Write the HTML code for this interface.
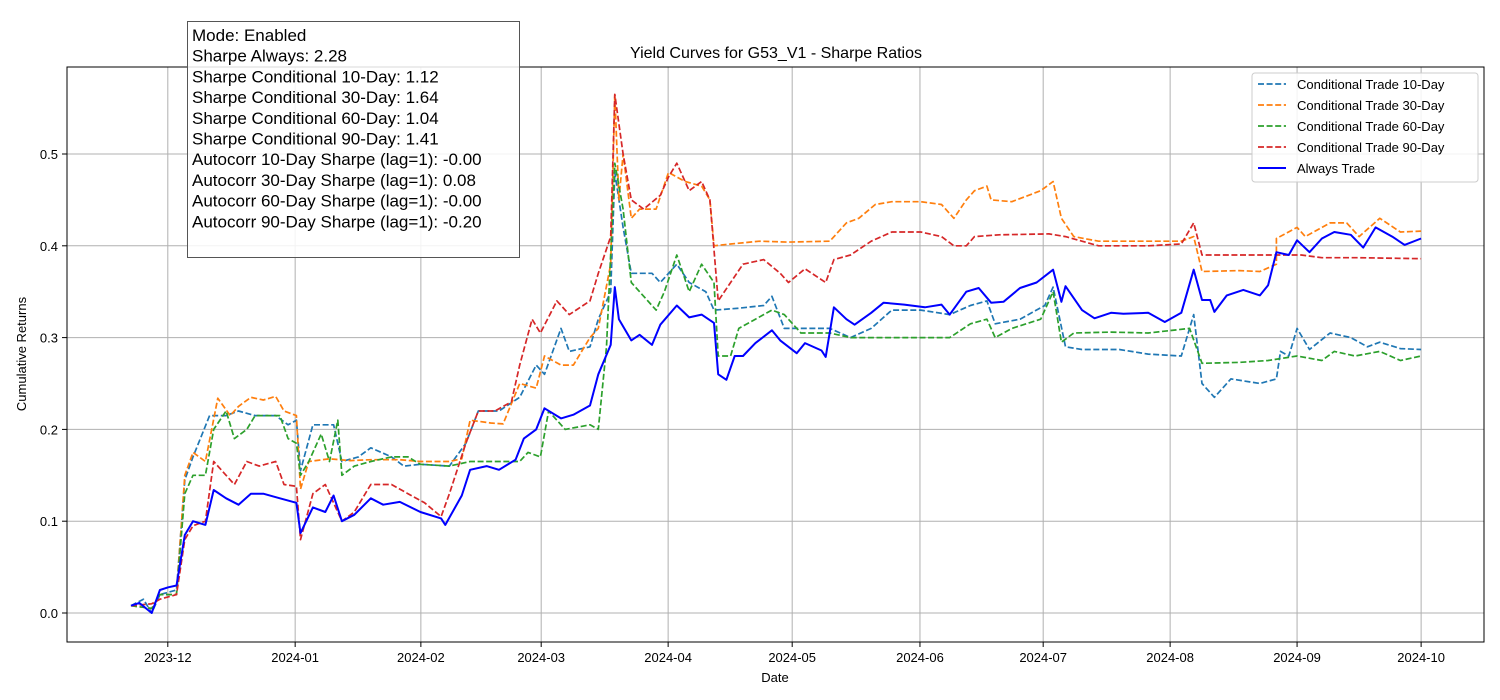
<!DOCTYPE html>
<html><head><meta charset="utf-8"><style>
body{margin:0;background:#fff;font-family:"Liberation Sans","DejaVu Sans",sans-serif}
svg{display:block}
</style></head><body>
<svg id="chart" width="1500" height="700" xmlns="http://www.w3.org/2000/svg"></svg>
<script>
const tickDates=["2023-12","2024-01","2024-02","2024-03","2024-04","2024-05","2024-06","2024-07","2024-08","2024-09","2024-10"];
const tickDays=[8.9,39.7,70.1,99.2,129.9,159.9,190.8,220.6,251.3,282,312];
const yTicks=[0.0,0.1,0.2,0.3,0.4,0.5];
const seriesNames=["Conditional Trade 10-Day","Conditional Trade 30-Day","Conditional Trade 60-Day","Conditional Trade 90-Day","Always Trade"];
const daysAlways=[0,2,5,7,9,11,13,15,18,20,23,26,29,32,36,40,41,44,47,49,51,54,58,61,65,70,75,76,80,82,86,89,93,95,98,100,104,107,111,113,116,117,118,121,123,126,128,132,135,138,141,142,144,146,148,151,155,157,161,163,167,168,170,173,175,179,182,187,192,196,198,202,205,208,211,215,219,223,225,226,230,233,237,240,246,250,254,257,259,261,262,265,269,273,275,277,280,282,285,288,291,295,298,301,305,308,312];
const valsAlways=[.008,.011,0,.025,.028,.03,.085,.10,.096,.134,.125,.118,.13,.13,.125,.12,.087,.115,.11,.128,.10,.107,.125,.118,.121,.11,.103,.096,.128,.156,.16,.156,.167,.19,.2,.223,.212,.216,.226,.26,.292,.355,.32,.297,.303,.292,.314,.335,.322,.325,.316,.26,.254,.28,.28,.294,.308,.297,.283,.294,.286,.279,.333,.32,.314,.327,.338,.336,.333,.336,.325,.35,.354,.338,.339,.354,.36,.374,.339,.356,.33,.321,.327,.326,.327,.317,.327,.374,.341,.341,.328,.346,.352,.346,.357,.393,.39,.406,.393,.408,.415,.412,.398,.42,.41,.401,.408];
const days30=[0,5,7,11,13,15,18,21,24,26,29,32,35,37,40,41,43,48,53,58,65,70,77,80,82,87,90,94,98,100,104,107,111,113,116,117,118,119,121,123,127,130,134,138,140,141,145,152,159,169,173,176,180,184,191,196,199,202,204,207,208,213,220,223,225,228,234,246,254,257,259,268,273,277,277,282,284,290,294,297,302,307,312];
const vals30=[.008,.005,.02,.02,.15,.175,.165,.234,.215,.225,.235,.232,.236,.22,.215,.135,.165,.168,.166,.167,.167,.165,.165,.168,.21,.207,.206,.25,.245,.28,.27,.27,.3,.31,.38,.565,.45,.5,.43,.44,.44,.48,.47,.465,.45,.4,.402,.405,.404,.405,.425,.43,.445,.448,.448,.445,.43,.45,.46,.465,.45,.448,.46,.47,.43,.41,.405,.405,.405,.41,.372,.373,.372,.38,.408,.42,.41,.425,.425,.41,.43,.415,.416];
const days60=[0,5,7,11,13,15,18,20,23,25,28,30,34,36,38,40,41,43,46,48,50,51,54,58,63,67,70,77,82,87,94,96,99,101,105,111,113,115,117,119,121,124,127,129,132,135,138,141,142,145,147,151,155,158,162,169,174,184,198,203,207,209,213,220,223,225,228,237,246,256,259,268,275,282,288,291,296,302,307,312];
const vals60=[.008,.005,.02,.02,.13,.15,.15,.2,.22,.19,.2,.215,.215,.215,.19,.185,.15,.165,.195,.165,.21,.15,.16,.165,.17,.17,.162,.16,.165,.165,.165,.175,.17,.22,.2,.205,.2,.29,.49,.44,.36,.345,.33,.35,.39,.35,.38,.36,.28,.28,.31,.32,.33,.325,.305,.305,.3,.3,.3,.315,.32,.3,.31,.32,.35,.295,.305,.306,.305,.31,.272,.273,.275,.28,.275,.285,.28,.285,.275,.28];
const days10=[0,3,5,7,11,13,15,19,23,26,30,35,38,40,41,44,49,51,55,58,63,66,70,77,81,84,89,94,98,100,104,106,111,113,116,117,119,121,126,128,132,135,139,141,147,153,155,158,164,169,174,179,184,191,198,203,207,209,215,221,223,226,230,239,246,254,257,259,262,266,273,277,278,280,282,285,290,295,299,302,307,312];
const vals10=[.008,.015,0,.02,.025,.145,.17,.215,.215,.22,.215,.215,.205,.21,.155,.205,.205,.165,.17,.18,.17,.16,.162,.16,.185,.22,.22,.235,.27,.26,.31,.285,.29,.32,.35,.48,.42,.37,.37,.36,.38,.36,.35,.33,.332,.335,.345,.31,.31,.31,.3,.31,.33,.33,.325,.335,.34,.315,.32,.335,.355,.29,.287,.287,.282,.28,.325,.25,.235,.255,.25,.255,.285,.28,.31,.287,.305,.3,.29,.295,.288,.287];
const days90=[0,5,7,11,13,15,18,20,23,25,28,31,35,37,40,41,44,47,51,54,58,63,67,71,75,77,81,84,88,92,94,97,99,103,106,111,113,116,117,119,121,124,128,130,132,135,138,140,142,145,148,153,157,159,163,168,170,174,179,184,191,196,199,202,204,210,222,226,230,234,246,254,257,259,268,277,283,288,297,312];
const vals90=[.008,.01,.015,.02,.08,.095,.1,.165,.15,.14,.165,.16,.165,.14,.138,.08,.13,.14,.1,.11,.14,.14,.13,.12,.105,.13,.185,.22,.22,.23,.27,.32,.305,.34,.325,.34,.37,.41,.565,.5,.45,.44,.455,.475,.49,.46,.47,.45,.34,.36,.38,.385,.37,.36,.375,.36,.385,.39,.405,.415,.415,.41,.4,.4,.41,.412,.413,.41,.405,.4,.4,.402,.425,.39,.39,.39,.39,.387,.387,.386];

const NS="http://www.w3.org/2000/svg";
const svg=document.getElementById('chart');
const L=67,R=1484,T=67,B=642;
const xs=d=>131+d*4.135;
const ys=v=>613-v*918;
function mk(tag,attrs,parent){const e=document.createElementNS(NS,tag);for(const k in attrs)e.setAttribute(k,attrs[k]);(parent||svg).appendChild(e);return e;}
function txt(s,attrs,parent){const e=mk('text',attrs,parent);e.textContent=s;return e;}

const grid=mk('g',{});


tickDays.forEach((d,i)=>{
  const x=xs(d);
  mk('line',{x1:x,x2:x,y1:T,y2:B,stroke:'#b0b0b0','stroke-width':1},grid);
  mk('line',{x1:x,x2:x,y1:B,y2:B+5,stroke:'#000'});
  const t=txt(tickDates[i],{x:x,y:B+20,'text-anchor':'middle','font-size':13,fill:'#000'});
  
  
});
yTicks.forEach(v=>{
  const y=ys(v);
  mk('line',{x1:L,x2:R,y1:y,y2:y,stroke:'#b0b0b0','stroke-width':1},grid);
  mk('line',{x1:L-5,x2:L,y1:y,y2:y,stroke:'#000'});
  const t=txt(v.toFixed(1),{x:L-9,y:y+5,'text-anchor':'end','font-size':13,fill:'#000'});
  
  
});

const series=[[days10,vals10,'#1f77b4',true],[days30,vals30,'#ff7f0e',true],[days60,vals60,'#2ca02c',true],[days90,vals90,'#d62728',true],[daysAlways,valsAlways,'#0000ff',false]];
const sNames=['line-10-day','line-30-day','line-60-day','line-90-day','line-always-trade'];
series.forEach((s,i)=>{
  const pts=s[0].map((d,j)=>xs(d).toFixed(1)+','+ys(s[1][j]).toFixed(1)).join(' ');
  const p=mk('polyline',{points:pts,fill:'none',stroke:s[2],'stroke-width':s[3]?1.7:2,'stroke-dasharray':s[3]?'6,2.6':'none','stroke-linejoin':'round'});
  
  
});

const frame=mk('rect',{x:L,y:T,width:R-L,height:B-T,fill:'none',stroke:'#000','stroke-width':1});



const title=txt('Yield Curves for G53_V1 - Sharpe Ratios',{x:776,y:58,'text-anchor':'middle','font-size':16,fill:'#000'});


const xl=txt('Date',{x:775,y:682,'text-anchor':'middle','font-size':13,fill:'#000'});


const yl=txt('Cumulative Returns',{x:26,y:354,'text-anchor':'middle','font-size':13,fill:'#000',transform:'rotate(-90 26 354)'});



const lg=mk('g',{});


mk('rect',{x:1252,y:73,width:226,height:109,rx:3,fill:'#fff','fill-opacity':0.85,stroke:'#ccc'},lg);
seriesNames.forEach((n,i)=>{
  const y=84+i*21;
  const s=series[i];
  mk('line',{x1:1258,x2:1286,y1:y,y2:y,stroke:s[2],'stroke-width':s[3]?1.7:2,'stroke-dasharray':s[3]?'6,2.6':'none'},lg);
  const t=txt(n,{x:1297,y:y+5,'font-size':13,fill:'#000'},lg);
  
  
});

const infoLines=["Mode: Enabled","Sharpe Always: 2.28","Sharpe Conditional 10-Day: 1.12","Sharpe Conditional 30-Day: 1.64","Sharpe Conditional 60-Day: 1.04","Sharpe Conditional 90-Day: 1.41","Autocorr 10-Day Sharpe (lag=1): -0.00","Autocorr 30-Day Sharpe (lag=1): 0.08","Autocorr 60-Day Sharpe (lag=1): -0.00","Autocorr 90-Day Sharpe (lag=1): -0.20"];
const ib=mk('g',{});


mk('rect',{x:187.5,y:21.5,width:332,height:236,fill:'#fff','fill-opacity':0.85,stroke:'#555'},ib);
infoLines.forEach((l,i)=>{
  const t=txt(l,{x:192,y:41+i*20.7,'font-size':17,fill:'#000'},ib);
  
  
});
</script>
</body></html>
